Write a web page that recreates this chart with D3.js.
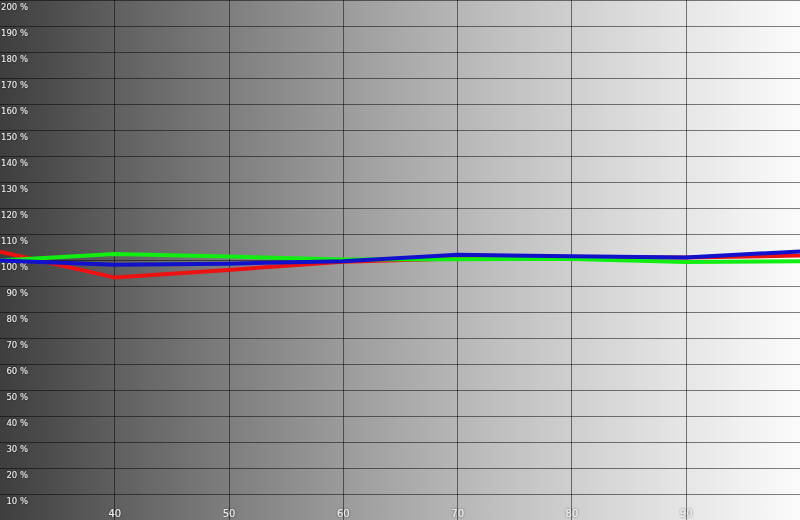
<!DOCTYPE html>
<html><head><meta charset="utf-8">
<script src="https://cdn.jsdelivr.net/npm/d3@7"></script>
<style>html,body{margin:0;padding:0;background:#fff;}svg{display:block;}</style>
</head><body>
<svg id="c" width="800" height="520"></svg>
<script>
const xValues = [30, 40, 50, 60, 70, 80, 90, 100];
const redValues = [103.2, 93.3, 96.2, 99.3, 100.6, 101.0, 101.0, 101.7];
const greenValues = [99.8, 102.3, 101.3, 100.2, 100.3, 100.4, 99.2, 99.5];
const blueValues = [99.8, 98.2, 98.6, 99.5, 102.0, 101.4, 101.0, 103.3];
const yTicks = [10,20,30,40,50,60,70,80,90,100,110,120,130,140,150,160,170,180,190,200];
const xTicks = [40, 50, 60, 70, 80, 90];

const W = 800, H = 520;
const svg = d3.select("#c");
const x = d3.scaleLinear().domain([30, 100]).range([0, W]);
const y = d3.scaleLinear().domain([0, 200]).range([H, 0]);

const defs = svg.append("defs");
const grad = defs.append("linearGradient").attr("id","bg").attr("x1","0").attr("x2","1").attr("y1","0").attr("y2","0");
[[0,"#3e3e3e"],[0.143,"#5f5f5f"],[0.286,"#7e7e7e"],[0.43,"#9b9b9b"],[0.57,"#b6b6b6"],[0.714,"#cfcfcf"],[0.857,"#e6e6e6"],[1,"#fbfbfb"]].forEach(s=>
  grad.append("stop").attr("offset", s[0]).attr("stop-color", s[1]));
const f = defs.append("filter").attr("id","glow").attr("x","-20%").attr("y","-20%").attr("width","140%").attr("height","140%");
f.append("feDropShadow").attr("dx",0).attr("dy",0).attr("stdDeviation",0.8).attr("flood-color","#000").attr("flood-opacity",0.6);

svg.append("rect").attr("width",W).attr("height",H).attr("fill","url(#bg)");

svg.append("g").attr("class","ygrid")
  .call(d3.axisLeft(y).tickValues(yTicks).tickSize(-W).tickFormat(""))
  .call(g=>g.select(".domain").remove())
  .call(g=>g.selectAll("line").attr("stroke","rgba(0,0,0,0.5)").attr("stroke-width",1).attr("shape-rendering","crispEdges"));
svg.append("g").attr("class","xgrid").attr("transform",`translate(0,${H})`)
  .call(d3.axisBottom(x).tickValues(xTicks).tickSize(-H).tickFormat(""))
  .call(g=>g.select(".domain").remove())
  .call(g=>g.selectAll("line").attr("stroke","rgba(0,0,0,0.5)").attr("stroke-width",1).attr("shape-rendering","crispEdges"));

svg.append("g").attr("class","ylab")
  .call(d3.axisRight(y).tickValues(yTicks).tickSize(0).tickPadding(0).tickFormat(d=>d+" %"))
  .call(g=>g.select(".domain").remove())
  .call(g=>g.selectAll("text")
    .attr("x",28).attr("dy","0").attr("y",9).attr("text-anchor","end")
    .attr("font-family","DejaVu Sans, sans-serif").attr("font-size",8.5)
    .attr("fill","#eeeeee").attr("filter","url(#glow)"));

svg.append("g").attr("class","xlab").attr("transform",`translate(0,${H})`)
  .call(d3.axisTop(x).tickValues(xTicks).tickSize(0).tickPadding(0).tickFormat(d=>d))
  .call(g=>g.select(".domain").remove())
  .call(g=>g.selectAll("text")
    .attr("y",-3).attr("dy","0")
    .attr("font-family","DejaVu Sans, sans-serif").attr("font-size",10)
    .attr("fill","#eeeeee").attr("filter","url(#glow)"));

const line = d3.line().x(d=>x(d[0])).y(d=>y(d[1]));
const series = [
  {vals: redValues, color: "#ee1111"},
  {vals: greenValues, color: "#11ee11"},
  {vals: blueValues, color: "#1111cc"}
];
series.forEach(s=>{
  svg.append("path")
    .datum(xValues.map((v,i)=>[v, s.vals[i]]))
    .attr("d", line).attr("fill","none")
    .attr("stroke", s.color).attr("stroke-width",4)
    .attr("stroke-linejoin","round");
});
</script>
</body></html>
